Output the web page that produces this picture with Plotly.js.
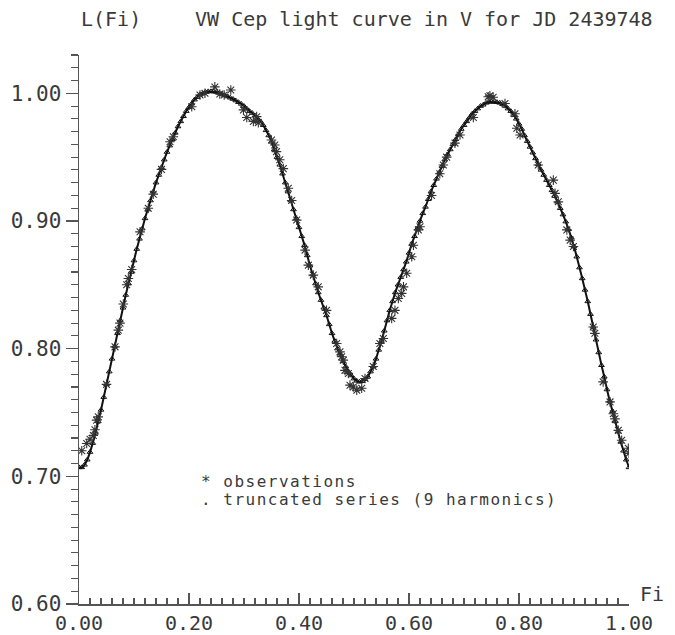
<!DOCTYPE html>
<html>
<head>
<meta charset="utf-8">
<script src="https://cdn.plot.ly/plotly-3.0.1.min.js"></script>
<style>
  html, body { margin: 0; padding: 0; background: #fff; }
  #chart { width: 675px; height: 635px; }
</style>
</head>
<body>
<div id="chart"></div>
<script>
// ---- data ----
const chartTitle = "VW Cep light curve in V for JD 2439748";
const yAxisLabel = "L(Fi)";
const xAxisLabel = "Fi";
const legendObs = "* observations";
const legendFit = ". truncated series (9 harmonics)";

// observations (phase, relative light)
const obsPhase = [
  0.005, 0.014, 0.020, 0.026, 0.029, 0.032, 0.035, 0.050, 0.0655, 0.0715,
  0.0745, 0.0806, 0.0867, 0.0897, 0.0958, 0.111, 0.126, 0.135, 0.150, 0.1655,
  0.1715, 0.205, 0.220, 0.229, 0.247, 0.256, 0.264, 0.276, 0.299, 0.305,
  0.317, 0.323, 0.326, 0.350, 0.356, 0.359, 0.365, 0.3715, 0.3805, 0.3867,
  0.3958, 0.411, 0.417, 0.426, 0.435, 0.450, 0.4685, 0.4745, 0.4776, 0.4806,
  0.4836, 0.4897, 0.4927, 0.4987, 0.505, 0.514, 0.520, 0.535, 0.547, 0.5533,
  0.5685, 0.5745, 0.5806, 0.5867, 0.590, 0.5958, 0.605, 0.608, 0.617, 0.620,
  0.641, 0.656, 0.6624, 0.6685, 0.6836, 0.6927, 0.717, 0.744, 0.747, 0.753,
  0.7745, 0.7927, 0.796, 0.802, 0.835, 0.8624, 0.8655, 0.8715, 0.887, 0.893,
  0.899, 0.935, 0.938, 0.953, 0.9655, 0.9715, 0.9745, 0.9806, 0.9867, 0.9987,
  1.000
];
const obsLight = [
  0.720, 0.7257, 0.729, 0.732, 0.7365, 0.744, 0.7466, 0.772, 0.8014, 0.8145,
  0.820, 0.835, 0.850, 0.855, 0.862, 0.8915, 0.910, 0.921, 0.9404, 0.962,
  0.966, 0.9895, 0.9987, 1.000, 1.005, 0.9995, 0.9987, 1.0026, 0.987, 0.981,
  0.978, 0.9817, 0.977, 0.9634, 0.9595, 0.9543, 0.948, 0.941, 0.9256, 0.916,
  0.9007, 0.8772, 0.8654, 0.8576, 0.8484, 0.830, 0.804, 0.7975, 0.7936, 0.791,
  0.783, 0.7806, 0.7714, 0.770, 0.7675, 0.769, 0.7766, 0.786, 0.804, 0.808,
  0.8237, 0.830, 0.8393, 0.8433, 0.8484, 0.859, 0.872, 0.881, 0.893, 0.8955,
  0.920, 0.937, 0.9438, 0.950, 0.961, 0.9673, 0.981, 0.9973, 0.998, 0.9969,
  0.992, 0.984, 0.9726, 0.9673, 0.9438, 0.932, 0.9216, 0.915, 0.893, 0.885,
  0.880, 0.817, 0.812, 0.774, 0.7583, 0.749, 0.745, 0.736, 0.7283, 0.722,
  0.718
];

// truncated Fourier series, sampled every PHASE_STEP from phase 0 to 1
const PHASE_STEP = 0.005;
const fitLight = [
  0.707, 0.707, 0.709, 0.713, 0.719, 0.726, 0.734, 0.743, 0.752, 0.762,
  0.772, 0.782, 0.792, 0.802, 0.812, 0.822, 0.832, 0.842, 0.851, 0.860,
  0.869, 0.878, 0.886, 0.894, 0.902, 0.909, 0.916, 0.923, 0.930, 0.936,
  0.942, 0.948, 0.954, 0.959, 0.964, 0.969, 0.974, 0.978, 0.982, 0.986,
  0.989, 0.992, 0.995, 0.997, 0.999, 1.000, 1.001, 1.0015, 1.0015, 1.0013,
  1.001, 1.0003, 0.9995, 0.9985, 0.9975, 0.9965, 0.9955, 0.9943, 0.993, 0.9917,
  0.990, 0.988, 0.986, 0.9845, 0.9825, 0.980, 0.978, 0.975, 0.971, 0.967,
  0.962, 0.956, 0.950, 0.944, 0.937, 0.930, 0.923, 0.916, 0.909, 0.902,
  0.895, 0.888, 0.881, 0.873, 0.865, 0.858, 0.851, 0.844, 0.838, 0.832,
  0.826, 0.819, 0.812, 0.806, 0.800, 0.795, 0.790, 0.786, 0.782, 0.779,
  0.7765, 0.7748, 0.774, 0.7745, 0.776, 0.778, 0.782, 0.786, 0.792, 0.799,
  0.806, 0.814, 0.822, 0.830, 0.837, 0.844, 0.850, 0.856, 0.862, 0.868,
  0.875, 0.882, 0.888, 0.894, 0.900, 0.906, 0.911, 0.917, 0.923, 0.928,
  0.933, 0.938, 0.943, 0.948, 0.952, 0.956, 0.960, 0.964, 0.968, 0.972,
  0.975, 0.978, 0.981, 0.984, 0.986, 0.988, 0.990, 0.991, 0.9925, 0.9932,
  0.9934, 0.9932, 0.993, 0.9925, 0.9915, 0.990, 0.988, 0.986, 0.983, 0.980,
  0.976, 0.972, 0.967, 0.9625, 0.958, 0.9535, 0.949, 0.9445, 0.940, 0.936,
  0.932, 0.928, 0.924, 0.9195, 0.915, 0.910, 0.905, 0.8995, 0.8935, 0.887,
  0.880, 0.872, 0.8635, 0.855, 0.846, 0.837, 0.827, 0.817, 0.807, 0.797,
  0.787, 0.778, 0.768, 0.759, 0.751, 0.743, 0.735, 0.727, 0.720, 0.713,
  0.707
];
const fitPhase = fitLight.map((_, i) => +(i * PHASE_STEP).toFixed(4));

// ---- drawing ----
const FONT = "DejaVu Sans Mono, Liberation Mono, monospace";
const TXT = "#3a3a3a";
const AX = "#555";

const traces = [
  {
    x: fitPhase, y: fitLight, type: "scatter", mode: "lines+markers",
    name: "truncated series",
    line: { color: "#111", width: 2, shape: "spline", smoothing: 0.6 },
    marker: { symbol: "triangle-up-open", size: 5, color: "#111",
              line: { width: 1, color: "#111" } },
    hoverinfo: "x+y"
  },
  {
    x: obsPhase, y: obsLight, type: "scatter", mode: "markers",
    name: "observations",
    marker: { symbol: "asterisk-open", size: 8, color: "#333",
              line: { width: 1.1, color: "#333" } },
    hoverinfo: "x+y"
  }
];

const layout = {
  width: 675, height: 635,
  paper_bgcolor: "#fff", plot_bgcolor: "#fff",
  margin: { l: 79, r: 46, t: 55, b: 31, pad: 0 },
  showlegend: false,
  font: { family: FONT, color: TXT },
  title: {
    text: chartTitle,
    font: { family: FONT, size: 20, color: TXT },
    xref: "paper", x: 0.627, xanchor: "center",
    yref: "container", y: 0.970, yanchor: "middle"
  },
  xaxis: {
    range: [0, 1], tick0: 0, dtick: 0.2, tickformat: ".2f",
    showgrid: false, zeroline: false,
    showline: true, linecolor: AX, linewidth: 1.5,
    ticks: "inside", ticklen: 11, tickwidth: 1.3, tickcolor: AX,
    minor: { dtick: 0.02, tick0: 0, ticks: "inside", ticklen: 6, tickwidth: 1.1, tickcolor: AX, showgrid: false },
    tickfont: { family: FONT, size: 20, color: TXT },
    ticklabelstandoff: 0
  },
  yaxis: {
    range: [0.6, 1.03], tick0: 0.6, dtick: 0.1, tickformat: ".2f",
    showgrid: false, zeroline: false,
    showline: true, linecolor: AX, linewidth: 1.5,
    ticks: "outside", ticklen: 12, tickwidth: 1.3, tickcolor: AX,
    minor: { dtick: 0.01, tick0: 0.6, ticks: "outside", ticklen: 7, tickwidth: 1.1, tickcolor: AX, showgrid: false },
    tickfont: { family: FONT, size: 21, color: TXT }
  },
  annotations: [
    { text: yAxisLabel, xref: "paper", yref: "paper", x: 0.058, y: 1.0656,
      xanchor: "center", yanchor: "middle", showarrow: false,
      font: { family: FONT, size: 20, color: TXT } },
    { text: xAxisLabel, xref: "paper", yref: "paper", x: 1.042, y: 0.018,
      xanchor: "center", yanchor: "middle", showarrow: false,
      font: { family: FONT, size: 20, color: TXT } },
    { text: legendObs, xref: "paper", yref: "paper", x: 0.218, y: 0.2240,
      xanchor: "left", yanchor: "middle", showarrow: false,
      font: { family: FONT, size: 16, color: TXT } },
    { text: legendFit, xref: "paper", yref: "paper", x: 0.218, y: 0.1895,
      xanchor: "left", yanchor: "middle", showarrow: false,
      font: { family: FONT, size: 16, color: TXT } }
  ]
};

Plotly.newPlot("chart", traces, layout, { staticPlot: true, displayModeBar: false }).then(gd => {
  // widen the legend lines' letter spacing (the original uses a wide stroke font),
  // keeping each line's left edge where Plotly placed it
  gd.querySelectorAll(".annotation-text").forEach(t => {
    if (t.textContent === legendObs || t.textContent === legendFit) {
      const before = t.getBBox().x;
      t.style.letterSpacing = "1.5px";
      const after = t.getBBox().x;
      const x0 = parseFloat(t.getAttribute("x") || "0");
      t.setAttribute("x", x0 + (before - after));
    }
  });
});
</script>
</body>
</html>
